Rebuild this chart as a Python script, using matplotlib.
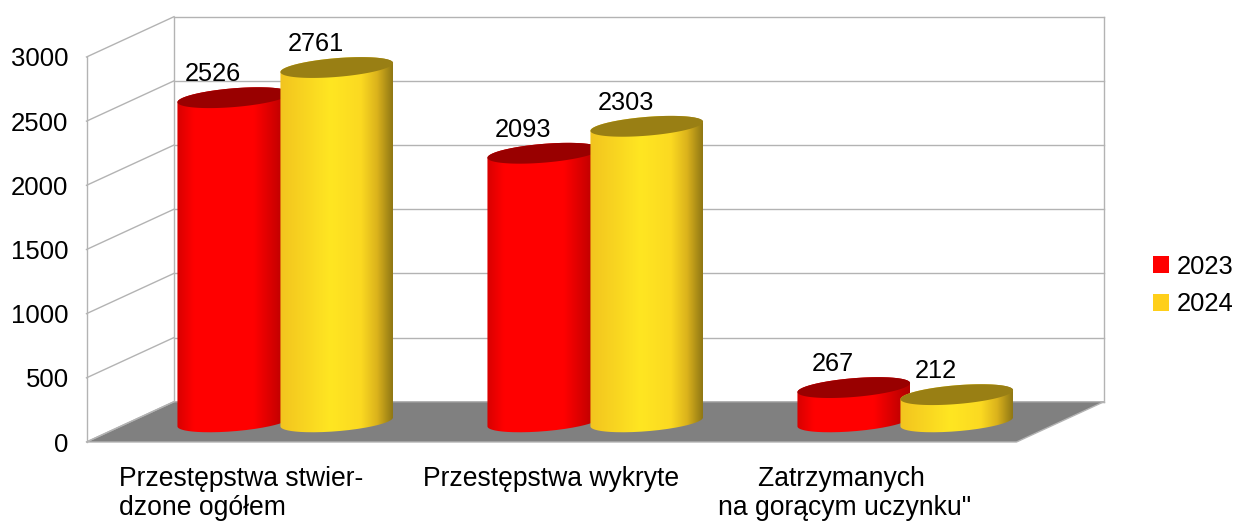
import numpy as np
import matplotlib
matplotlib.use("Agg")
import matplotlib.pyplot as plt
from matplotlib.colors import to_rgb
from matplotlib.patches import Patch, Polygon
from matplotlib.path import Path
from matplotlib.transforms import ScaledTranslation

categories = ["Przestępstwa stwier-\ndzone ogółem", "Przestępstwa wykryte", "Zatrzymanych \nna gorącym uczynku\""]
series_names = ["2023", "2024"]
values_2023 = [2526, 2093, 267]
values_2024 = [2761, 2303, 212]
y_ticks = [0, 500, 1000, 1500, 2000, 2500, 3000]

plt.rcParams["font.family"] = ["Liberation Sans", "DejaVu Sans"]
W, H = 1235, 521
fig = plt.figure(figsize=(W / 100, H / 100), dpi=100, facecolor="white")
L, R, T, B = 86.5, 1016.5, 57.0, 442.0
ax = fig.add_axes([L / W, 1 - B / H, (R - L) / W, (B - T) / H])
ax.set_xlim(0, 3)
ax.set_ylim(0, 3000)
ax.set_autoscale_on(False)
ax.patch.set_visible(False)
for s in ax.spines.values():
    s.set_visible(False)

px_x = 3 / (R - L)
px_y = 3000 / (B - T)
DX = 87.5 * px_x
DY = 40.3 * px_y
GRID = "#b3b3b3"
lw = 1.0

# floor
ax.add_patch(Polygon([(0, 0), (DX, DY), (3 + DX, DY), (3, 0)], closed=True, facecolor="#808080",
                     edgecolor=GRID, lw=lw, clip_on=False, zorder=1))
# walls
for v in y_ticks:
    ax.plot([0, DX], [v, v + DY], color=GRID, lw=lw, clip_on=False, zorder=1.5)
    ax.plot([DX, 3 + DX], [v + DY, v + DY], color=GRID, lw=lw, clip_on=False, zorder=0.5)
ax.plot([0, 0], [0, 3000], color=GRID, lw=lw, clip_on=False, zorder=1.5)
ax.plot([DX, DX], [DY, 3000 + DY], color=GRID, lw=lw, clip_on=False, zorder=0.6)
ax.plot([3 + DX, 3 + DX], [DY, 3000 + DY], color=GRID, lw=lw, clip_on=False, zorder=0.6)

# cylinders
A = 56.3 * px_x      # half width
BH = 9.4 * px_y      # ellipse half height
SH = 4.5 * px_y      # ellipse shear
OFF = 51.5 * px_x
styles = [
    dict(top="#990000", pos=[0, .15, .68, 1], cols=["#d80000", "#ff0000", "#ff0000", "#b00000"]),
    dict(top="#997f14", pos=[0, .45, .72, .86, 1], cols=["#f2c41f", "#ffe622", "#fbd921", "#dcb31c", "#8f7714"]),
]


def ellipse(cx, cy, t):
    return np.column_stack([cx + A * np.cos(t), cy + BH * np.sin(t) + SH * np.cos(t)])


def cylinder(cx, value, st, z):
    base = DY / 2
    top = base + value
    lower = ellipse(cx, base, np.linspace(np.pi, 2 * np.pi, 80))
    upper = ellipse(cx, top, np.linspace(0, np.pi, 80))
    side = np.vstack([lower, upper, lower[:1]])
    n = 256
    u = np.linspace(0, 1, n)
    rgb = [to_rgb(c) for c in st["cols"]]
    img = np.stack([np.interp(u, st["pos"], [c[i] for c in rgb]) for i in range(3)], axis=-1)[None, :, :]
    im = ax.imshow(img, extent=(cx - A, cx + A, base - 3 * BH, top + 3 * BH), aspect="auto",
                   interpolation="bilinear", zorder=z)
    im.set_clip_box(fig.bbox)
    im.set_clip_path(Path(side), ax.transData)
    ax.add_patch(Polygon(ellipse(cx, top, np.linspace(0, 2 * np.pi, 160)), closed=True,
                         facecolor=st["top"], edgecolor="none", clip_on=False, zorder=z + 0.1))


ax.set_xlim(0, 3)
ax.set_ylim(0, 3000)
for i in range(3):
    cx = i + 0.5 + DX / 2
    for j, vals in enumerate((values_2023, values_2024)):
        c = cx + (j - 0.5) * 2 * OFF
        cylinder(c, vals[i], styles[j], 2 + i + j * 0.3)
        ax.annotate(str(vals[i]), xy=(c, DY / 2 + vals[i]), xytext=(-15.3, 16.8), textcoords="offset points",
                    ha="center", va="center", fontsize=18.3, color="black", zorder=10, annotation_clip=False)
ax.set_xlim(0, 3)
ax.set_ylim(0, 3000)

# ticks
ax.set_yticks(y_ticks)
ax.tick_params(axis="y", length=0, pad=12.9, labelsize=18.5)
ax.set_xticks([i + 0.5 for i in range(3)])
ax.set_xticklabels(categories, fontsize=19.1, linespacing=1.14)
ax.tick_params(axis="x", length=0, pad=17.2)
for lab, ma in zip(ax.get_xticklabels(), ["left", "center", "center"]):
    lab.set_multialignment(ma)
third = ax.get_xticklabels()[2]
third.set_transform(third.get_transform() + ScaledTranslation(-12 / 72, 0, fig.dpi_scale_trans))

# legend
handles = [Patch(facecolor="#ff0000", edgecolor="none", label=series_names[0]),
           Patch(facecolor="#ffcf1a", edgecolor="none", label=series_names[1])]
fig.legend(handles=handles, loc="center left", bbox_to_anchor=(1153 / W, 1 - 285.5 / H), frameon=False,
           fontsize=18.4, handlelength=0.62, handleheight=0.62, handletextpad=0.3, labelspacing=0.53,
           borderpad=0, borderaxespad=0)

fig.savefig("out.png", dpi=100)
